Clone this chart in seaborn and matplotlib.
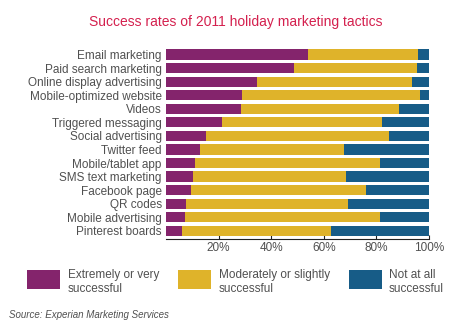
import matplotlib
matplotlib.use("Agg")
import matplotlib.pyplot as plt
from matplotlib.patches import Rectangle
import seaborn as sns
import pandas as pd
import numpy as np

categories = ["Email marketing", "Paid search marketing", "Online display advertising",
              "Mobile-optimized website", "Videos", "Triggered messaging",
              "Social advertising", "Twitter feed", "Mobile/tablet app",
              "SMS text marketing", "Facebook page", "QR codes",
              "Mobile advertising", "Pinterest boards"]
extremely = [54.1, 48.8, 34.6, 28.9, 28.5, 21.3, 15.1, 12.8, 11.0, 10.4, 9.4, 7.6, 7.4, 6.1]
moderately = [41.8, 46.8, 58.9, 67.7, 60.1, 60.8, 69.8, 54.9, 70.5, 58.0, 66.8, 61.6, 74.1, 56.5]
not_at_all = [4.1, 4.4, 6.5, 3.4, 11.4, 17.9, 15.1, 32.3, 18.5, 31.6, 23.8, 30.8, 18.5, 37.4]
legend_labels = ["Extremely or very\nsuccessful", "Moderately or slightly\nsuccessful", "Not at all\nsuccessful"]
tick_vals = [20, 40, 60, 80, 100]
tick_labels = ["20%", "40%", "60%", "80%", "100%"]

colors = ["#84246c", "#dfb32a", "#175c87"]

sns.set_theme(style="white")
plt.rcParams["font.family"] = ["Liberation Sans", "DejaVu Sans"]

df = pd.DataFrame({"cat": categories,
                   "c1": extremely,
                   "c2": np.array(extremely) + np.array(moderately),
                   "c3": np.array(extremely) + np.array(moderately) + np.array(not_at_all)})

fig = plt.figure(figsize=(4.68, 3.24), dpi=100)
ax = fig.add_axes([166/468, 1-239/324, 263/468, 192/324])

for col, c in zip(["c3", "c2", "c1"], colors[::-1]):
    sns.barplot(data=df, x=col, y="cat", color=c, width=0.75, ax=ax,
                saturation=1, edgecolor="none", linewidth=0, orient="h")

ax.set_xlim(0, 100)
ax.set_ylim(13.6, -0.55)
ax.set_xlabel("")
ax.set_ylabel("")
ax.set_xticks(tick_vals)
ax.set_xticklabels(tick_labels)
for s in ["top", "right", "left"]:
    ax.spines[s].set_visible(False)
ax.spines["bottom"].set_color("#222222")
ax.spines["bottom"].set_linewidth(0.8)
ax.tick_params(axis="x", direction="in", length=3, width=0.8, color="#222222",
               labelsize=8.5, labelcolor="#505050", pad=2, bottom=True)
ax.tick_params(axis="y", length=0, labelsize=8.5, labelcolor="#505050", pad=3)

fig.text(236/468, 1-22/324, "Success rates of 2011 holiday marketing tactics",
         ha="center", va="center", color="#d4204e", fontsize=10)

patch_x = [27, 178, 349]
text_x = [68, 219, 389]
for px, tx, c, lab in zip(patch_x, text_x, colors, legend_labels):
    fig.patches.append(Rectangle((px/468, 1-289/324), 33/468, 19/324,
                                 transform=fig.transFigure, facecolor=c,
                                 edgecolor="none", figure=fig))
    fig.text(tx/468, 1-269/324, lab, ha="left", va="top", color="#505050",
             fontsize=8.5, linespacing=1.2)

fig.text(9/468, 1-315/324, "Source: Experian Marketing Services", ha="left",
         va="center", color="#505050", fontsize=7, style="italic")

fig.savefig("out.png", dpi=100, facecolor="white")
